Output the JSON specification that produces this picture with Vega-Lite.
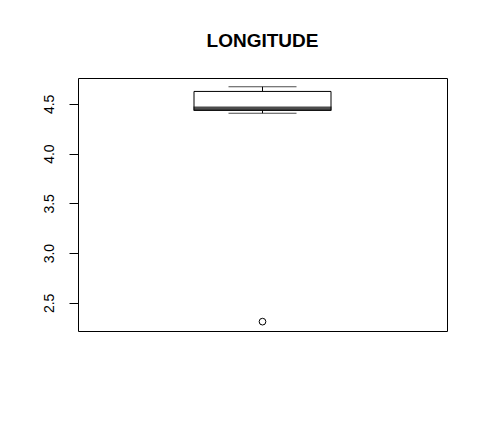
{
  "$schema": "https://vega.github.io/schema/vega-lite/v6.json",
  "autosize": "none",
  "width": 369,
  "height": 253,
  "padding": {"left": 78, "top": 78, "right": 41, "bottom": 98},
  "background": "white",
  "config": {
    "view": {"stroke": "black", "strokeWidth": 1},
    "font": "Liberation Sans"
  },
  "title": {
    "text": "LONGITUDE",
    "font": "Liberation Sans",
    "fontSize": 19,
    "fontWeight": "bold",
    "color": "black",
    "anchor": "middle",
    "baseline": "alphabetic",
    "offset": 12
  },
  "datasets": {
    "stats": [
      {"var": "LONGITUDE", "lower": 4.406, "q1": 4.436, "median": 4.452, "q3": 4.625, "upper": 4.672}
    ],
    "outliers": [
      {"var": "LONGITUDE", "value": 2.311}
    ]
  },
  "encoding": {
    "x": {
      "field": "var",
      "type": "nominal",
      "scale": {"paddingInner": 0, "paddingOuter": 0},
      "axis": null
    }
  },
  "layer": [
    {
      "data": {"name": "stats"},
      "mark": {"type": "rule", "color": "black", "strokeWidth": 1},
      "encoding": {
        "y": {
          "field": "q3",
          "type": "quantitative",
          "scale": {"domain": [2.217, 4.76], "nice": false, "zero": false},
          "axis": {
            "values": [2.5, 3, 3.5, 4, 4.5],
            "format": ".1f",
            "title": null,
            "grid": false,
            "domain": false,
            "tickColor": "black",
            "tickSize": 9,
            "labelAngle": -90,
            "labelAlign": "center",
            "labelBaseline": "bottom",
            "labelPadding": 13,
            "labelFont": "Liberation Sans",
            "labelFontSize": 14,
            "labelColor": "black"
          }
        },
        "y2": {"field": "upper"}
      }
    },
    {
      "data": {"name": "stats"},
      "mark": {"type": "rule", "color": "black", "strokeWidth": 1},
      "encoding": {
        "y": {"field": "lower", "type": "quantitative"},
        "y2": {"field": "q1"}
      }
    },
    {
      "data": {"name": "stats"},
      "mark": {"type": "tick", "color": "black", "size": 68, "thickness": 1},
      "encoding": {"y": {"field": "upper", "type": "quantitative"}}
    },
    {
      "data": {"name": "stats"},
      "mark": {"type": "tick", "color": "black", "size": 68, "thickness": 1},
      "encoding": {"y": {"field": "lower", "type": "quantitative"}}
    },
    {
      "data": {"name": "stats"},
      "mark": {"type": "bar", "fill": "white", "stroke": "black", "strokeWidth": 1, "size": 137},
      "encoding": {
        "y": {"field": "q1", "type": "quantitative"},
        "y2": {"field": "q3"}
      }
    },
    {
      "data": {"name": "stats"},
      "mark": {"type": "tick", "color": "black", "size": 138, "thickness": 4.5},
      "encoding": {"y": {"field": "median", "type": "quantitative"}}
    },
    {
      "data": {"name": "outliers"},
      "mark": {"type": "point", "shape": "circle", "filled": false, "stroke": "black", "strokeWidth": 1, "size": 45, "opacity": 1},
      "encoding": {"y": {"field": "value", "type": "quantitative"}}
    }
  ]
}
